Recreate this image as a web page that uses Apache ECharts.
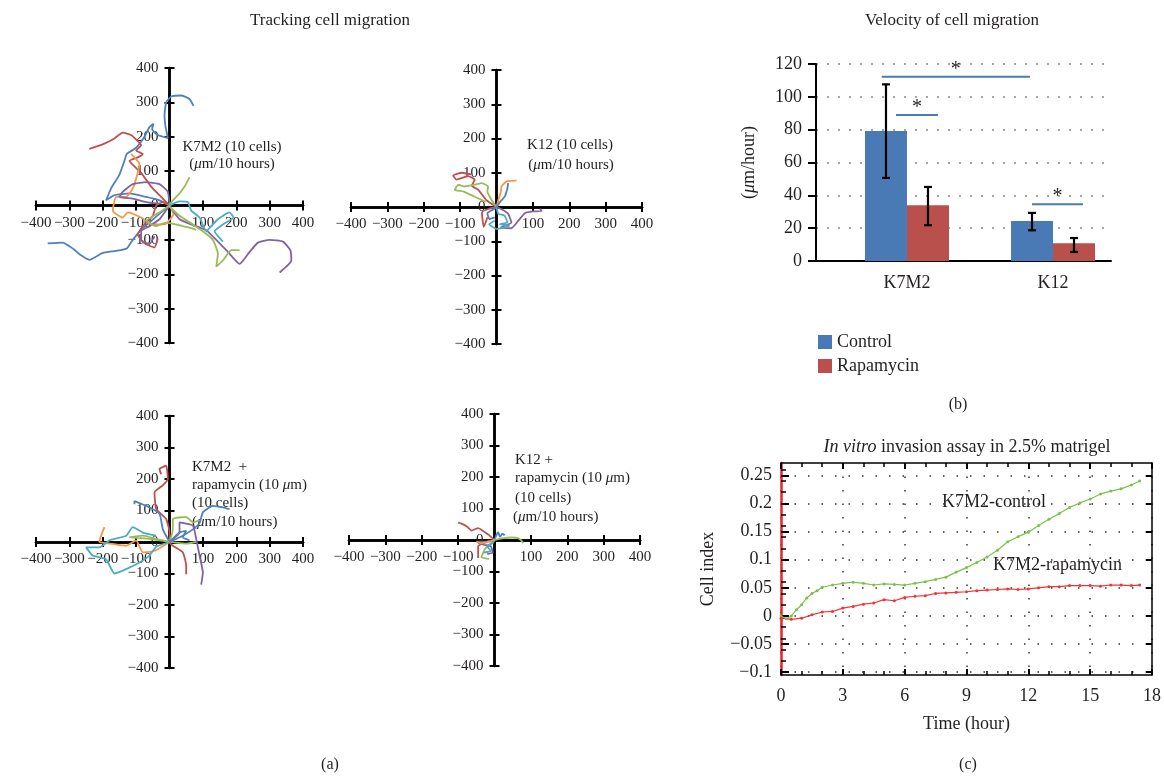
<!DOCTYPE html>
<html>
<head>
<meta charset="utf-8">
<script src="https://cdn.jsdelivr.net/npm/echarts@6/dist/echarts.min.js"></script>
<style>
  html, body { margin: 0; padding: 0; background: #fff; }
  #main { width: 1164px; height: 777px; }
</style>
</head>
<body>
<div id="main"></div>
<script>
// ---- data: cell tracks (um) ----
var tracksK7M2 = [
    [[0,0],[-30,15],[-70,25],[-120,35],[-165,30],[-190,15],[-175,50],[-150,90],[-135,130],[-128,150],[-100,168],[-75,200],[-60,228],[-48,238],[-52,222],[-35,205],[-5,196],[-12,230],[-15,262],[-10,300],[5,317],[35,320],[60,310],[72,290]],
    [[0,0],[-25,-20],[-55,-45],[-85,-70],[-110,-100],[-128,-125],[-160,-132],[-200,-138],[-240,-158],[-265,-145],[-290,-125],[-320,-108],[-365,-110]],
    [[0,0],[-25,25],[-55,55],[-85,95],[-120,130],[-95,140],[-80,150],[-100,160],[-85,175],[-115,205],[-140,212],[-165,195],[-200,178],[-240,165]],
    [[0,0],[-20,10],[-40,0],[-50,-30],[-80,-60],[-95,-85],[-75,-110],[-45,-122],[-35,-95]],
    [[0,0],[12,-25],[-15,-55],[-50,-55],[-85,-35],[-125,-20],[-140,-35],[-170,-15],[-160,25],[-130,25],[-110,50],[-100,78],[-90,120],[-100,135],[-115,150]],
    [[0,0],[-5,40],[-30,62],[-70,68],[-110,62],[-140,40],[-150,25],[-110,20],[-70,10],[-30,5]],
    [[0,0],[30,-40],[65,-55],[110,-72],[140,-100],[175,-135],[210,-170],[240,-135],[265,-108],[300,-100],[340,-105],[362,-130],[365,-160],[330,-195]],
    [[0,0],[-30,-40],[-60,-60],[-85,-75],[-85,-100],[-60,-112],[-45,-90]],
    [[60,82],[45,55],[30,35],[10,15],[0,0],[30,-30],[70,-55],[100,-75],[130,-100],[145,-140],[140,-178],[160,-160],[185,-130],[210,-130]],
    [[0,0],[-30,-20],[-70,-45],[-40,-60],[-10,-50],[40,-60],[80,-70]],
    [[0,0],[30,12],[55,10],[65,-15],[90,-35],[110,-75],[130,-55],[145,-40],[180,-20],[192,-35],[160,-55],[135,-75],[160,-105]]
];
var colorsK7M2 = ['#4F81BD','#4F81BD','#C0504D','#C0504D','#F79646','#8064A2','#8064A2','#8064A2','#9BBB59','#9BBB59','#4BACC6'];

var tracksK12 = [
    [[0,0],[-28,20],[-50,50],[-68,62],[-60,80],[-78,90],[-110,80],[-119,92],[-95,100],[-70,95]],
    [[0,0],[-20,-5],[-40,-15],[-38,-40],[-35,-58],[-25,-30]],
    [[0,0],[-14,21],[-25,45],[-23,60],[-41,70],[-60,65],[-87,60],[-105,65],[-115,50],[-90,45],[-60,30],[-30,15]],
    [[0,0],[5,20],[12,45],[14,60],[28,75],[55,77]],
    [[0,0],[10,15],[23,31],[30,55],[32,70]],
    [[0,0],[20,-10],[32,-20],[41,-45],[12,-60],[41,-62],[60,-40],[78,-18],[100,-13],[124,-12],[120,-5]],
    [[0,0],[5,-20],[22,-25],[30,-45],[10,-50],[35,-55],[0,-64],[-20,-50],[-5,-40]],
    [[0,0],[-10,-8],[-25,-18],[-20,-35],[-5,-30]]
];
var colorsK12 = ['#C0504D','#C0504D','#9BBB59','#F79646','#4F81BD','#8064A2','#4BACC6','#4F81BD'];

var tracksK7M2Rapa = [
    [[50,-102],[50,-75],[40,-33],[10,-12],[0,0],[0,31],[-10,73],[-40,105],[-45,158],[-20,180],[-5,200],[-10,242],[-30,232],[-25,215]],
    [[0,0],[-20,40],[-30,90],[-70,115],[-105,130],[-105,120]],
    [[0,0],[40,20],[70,40],[90,60],[100,94],[130,115],[160,110],[180,104]],
    [[0,0],[10,40],[10,73],[50,80],[70,62],[90,70]],
    [[0,0],[-40,10],[-80,20],[-120,15],[-60,10],[50,-5],[80,0]],
    [[0,0],[30,30],[30,62],[70,52],[80,10],[90,-43],[100,-96],[95,-135]],
    [[0,0],[-30,-20],[-50,-30],[-80,-33],[-100,5],[-130,-12],[-170,-6],[-210,0],[-205,20],[-195,47]],
    [[0,0],[-40,-15],[-60,-43],[-90,-65],[-130,-86],[-165,-100],[-190,-55],[-230,-43],[-250,-17],[-210,-17],[-180,5],[-130,20],[-110,47],[-80,30],[-40,20]],
    [[0,0],[30,30],[50,35],[40,15],[60,5]]
];
var colorsK7M2Rapa = ['#C0504D','#4F81BD','#4F81BD','#9BBB59','#9BBB59','#8064A2','#F79646','#4BACC6','#4F81BD'];

var tracksK12Rapa = [
    [[0,0],[-17,17],[-45,38],[-63,30],[-75,42],[-91,52],[-100,55]],
    [[0,0],[-20,-5],[-45,-20],[-45,-57]],
    [[0,0],[5,15],[10,25],[15,10],[22,20],[28,15]],
    [[0,0],[20,5],[47,8],[65,6],[74,-2],[79,-10]],
    [[0,0],[-10,-10],[-27,-30],[-36,-55],[-15,-60]],
    [[0,0],[-20,-5],[-45,-5],[-30,-15],[-10,-20],[-5,-40],[-20,-45]],
    [[0,0],[-5,-10],[-20,-20],[-10,-35],[-30,-40]],
    [[0,0],[-15,-5],[-35,-10],[-50,-5]]
];
var colorsK12Rapa = ['#C0504D','#C0504D','#4F81BD','#9BBB59','#9BBB59','#8064A2','#4BACC6','#F79646'];

// ---- data: velocity bars ----
var barCats = ['K7M2', 'K12'];
var controlVel = [79.2, 24.3];
var rapaVel = [34.0, 10.8];
var controlLow = [50.6, 18.7];
var controlHigh = [107.6, 29.3];
var rapaLow = [21.8, 5.5];
var rapaHigh = [45.1, 14.0];
// significance bars: [x from, x to, height]
var sigBars = [[-0.173, 0.842, 112.3], [-0.075, 0.212, 88.9], [0.856, 1.205, 34.6]];

// ---- data: invasion assay ----
var ctrlTime = [0,0.25,0.5,0.75,1,1.25,1.5,1.75,2,2.5,3,3.5,4,4.5,5,5.5,6,6.5,7,7.5,8,8.5,9,9.5,10,10.5,11,11.5,12,12.5,13,13.5,14,14.5,15,15.5,16,16.5,17,17.4];
var ctrlIndex = [0,-0.005,0,0.011,0.02,0.032,0.04,0.045,0.051,0.055,0.058,0.06,0.058,0.055,0.057,0.056,0.055,0.058,0.061,0.065,0.069,0.078,0.086,0.095,0.105,0.117,0.132,0.141,0.149,0.161,0.172,0.182,0.193,0.201,0.208,0.217,0.222,0.226,0.233,0.24];
var rapaTime = [0,0.5,1,1.5,2,2.5,3,3.5,4,4.5,5,5.5,6,6.5,7,7.5,8,8.5,9,9.5,10,10.5,11,11.5,12,12.5,13,13.5,14,14.5,15,15.5,16,16.5,17,17.4];
var rapaIndex = [-0.004,-0.006,-0.004,0.002,0.007,0.008,0.014,0.017,0.021,0.023,0.029,0.027,0.033,0.035,0.036,0.04,0.041,0.042,0.043,0.045,0.046,0.047,0.048,0.047,0.048,0.05,0.052,0.052,0.054,0.054,0.054,0.053,0.055,0.055,0.054,0.055];
var cellIndexTicks = [-0.1,-0.05,0,0.05,0.1,0.15,0.2,0.25];

var FONT = 'Liberation Serif';
var INK = '#231f20';

function minus(v) {
    return String(v).replace('-', '\u2212');
}

function zip(xs, ys) {
    return xs.map(function (x, i) { return [x, ys[i]]; });
}

var chartDom = document.getElementById('main');
var myChart = echarts.init(chartDom);

var panels = [
    {box: {left: 36, top: 68, width: 267, height: 275}, tracks: tracksK7M2, colors: colorsK7M2},
    {box: {left: 351, top: 70, width: 291, height: 274}, tracks: tracksK12, colors: colorsK12},
    {box: {left: 36, top: 416, width: 267, height: 252}, tracks: tracksK7M2Rapa, colors: colorsK7M2Rapa},
    {box: {left: 349, top: 414, width: 291, height: 252}, tracks: tracksK12Rapa, colors: colorsK12Rapa}
];

var grids = [], xAxes = [], yAxes = [], series = [];

panels.forEach(function (p, gi) {
    grids.push(p.box);
    var lineStyle = {color: '#000', width: 2.5};
    var tick = {show: true, length: 5, lineStyle: {color: '#000', width: 2}};
    var label = {fontSize: 15, fontFamily: FONT, color: INK};
    // axes cross at the centre (symmetric range); pulled inward with a negative offset,
    // two axes per direction so the ticks cross the line
    var xOff = -p.box.height / 2, yOff = -p.box.width / 2;
    xAxes.push({gridIndex: gi, type: 'value', min: -400, max: 400, interval: 100, position: 'bottom', offset: xOff,
        axisLine: {onZero: false, lineStyle: lineStyle}, axisTick: tick,
        axisLabel: Object.assign({margin: 10, formatter: function (v) { return v === 0 ? '' : minus(v); }}, label),
        splitLine: {show: false}});
    xAxes.push({gridIndex: gi, type: 'value', min: -400, max: 400, interval: 100, position: 'top', offset: xOff,
        axisLine: {onZero: false, lineStyle: lineStyle}, axisTick: tick,
        axisLabel: {show: false}, splitLine: {show: false}});
    yAxes.push({gridIndex: gi, type: 'value', min: -400, max: 400, interval: 100, position: 'left', offset: yOff,
        axisLine: {show: true, onZero: false, lineStyle: lineStyle}, axisTick: tick,
        axisLabel: Object.assign({margin: 11, formatter: minus}, label),
        splitLine: {show: false}});
    yAxes.push({gridIndex: gi, type: 'value', min: -400, max: 400, interval: 100, position: 'right', offset: yOff,
        axisLine: {show: true, onZero: false, lineStyle: lineStyle}, axisTick: tick,
        axisLabel: {show: false}, splitLine: {show: false}});
    p.tracks.forEach(function (t, k) {
        series.push({type: 'line', xAxisIndex: gi * 2, yAxisIndex: gi * 2, data: t,
            showSymbol: false, smooth: 0.15, silent: true, z: 3,
            lineStyle: {width: 1.8, color: p.colors[k]}});
    });
});

// ---- (b) velocity bar chart ----
grids.push({left: 816, top: 64, width: 295, height: 197});
xAxes.push({gridIndex: 4, type: 'value', min: -0.623, max: 1.397,
    axisLine: {onZero: false, lineStyle: {color: '#000', width: 2}},
    axisTick: {show: false}, splitLine: {show: false},
    axisLabel: {customValues: [0, 1], margin: 13, fontSize: 18, fontFamily: FONT, color: INK,
        formatter: function (v) { return barCats[Math.round(v)]; }}});
yAxes.push({gridIndex: 4, type: 'value', min: 0, max: 120, interval: 20,
    axisLine: {show: true, onZero: false, lineStyle: {color: '#000', width: 2}},
    axisTick: {show: true, length: 8, lineStyle: {color: '#000', width: 2}},
    axisLabel: {margin: 14, fontSize: 18, fontFamily: FONT, color: INK},
    splitLine: {show: true, lineStyle: {type: [2, 9], color: '#888', width: 1.5}},
    name: '({i|\u03bc}m/hour)', nameLocation: 'middle', nameGap: 58, nameRotate: 90,
    nameTextStyle: {fontSize: 18, fontFamily: FONT, color: INK,
        rich: {i: {fontStyle: 'italic', fontSize: 18, fontFamily: FONT, color: INK}}}});

series.push({name: 'Control', type: 'bar', xAxisIndex: 8, yAxisIndex: 8,
    data: zip([0, 1], controlVel), barWidth: 42, barGap: '0%', itemStyle: {color: '#4a7ab5'}});
series.push({name: 'Rapamycin', type: 'bar', xAxisIndex: 8, yAxisIndex: 8,
    data: zip([0, 1], rapaVel), barWidth: 42, barGap: '0%', itemStyle: {color: '#b9504b'}});

var errData = [];
barCats.forEach(function (c, i) {
    errData.push([i, controlLow[i], controlHigh[i], -1]);
    errData.push([i, rapaLow[i], rapaHigh[i], 1]);
});
series.push({type: 'custom', xAxisIndex: 8, yAxisIndex: 8, data: errData, z: 5, silent: true,
    encode: {x: 0, y: [1, 2]},
    renderItem: function (params, api) {
        var lo = api.coord([api.value(0), api.value(1)]);
        var hi = api.coord([api.value(0), api.value(2)]);
        var cx = lo[0] + api.value(3) * 21;
        var st = {stroke: '#000', lineWidth: 2.2};
        return {type: 'group', children: [
            {type: 'line', shape: {x1: cx, y1: lo[1], x2: cx, y2: hi[1]}, style: st},
            {type: 'line', shape: {x1: cx - 4, y1: lo[1], x2: cx + 4, y2: lo[1]}, style: st},
            {type: 'line', shape: {x1: cx - 4, y1: hi[1], x2: cx + 4, y2: hi[1]}, style: st}
        ]};
    }});
series.push({type: 'custom', xAxisIndex: 8, yAxisIndex: 8, data: sigBars, z: 5, silent: true,
    encode: {x: [0, 1], y: 2},
    renderItem: function (params, api) {
        var a = api.coord([api.value(0), api.value(2)]);
        var b = api.coord([api.value(1), api.value(2)]);
        return {type: 'group', children: [
            {type: 'line', shape: {x1: a[0], y1: a[1], x2: b[0], y2: b[1]}, style: {stroke: '#4a7ab5', lineWidth: 2}},
            {type: 'text', style: {text: '*', x: (a[0] + b[0]) / 2, y: a[1] + 3, align: 'center', verticalAlign: 'bottom',
                fontSize: 20, fontFamily: FONT, fill: INK}}
        ]};
    }});

// ---- (c) invasion assay ----
grids.push({left: 781, top: 463, width: 374, height: 212});
var cTick = {inside: true, length: 6, lineStyle: {color: '#000', width: 2}};
var cMinor = {show: true, splitNumber: 3, length: 4, lineStyle: {color: '#000', width: 1.5}};
xAxes.push({gridIndex: 5, type: 'value', min: 0, max: 18, interval: 3, position: 'bottom',
    axisLine: {onZero: false, lineStyle: {color: '#000', width: 1.5}},
    axisTick: cTick, minorTick: cMinor,
    axisLabel: {margin: 12, fontSize: 18, fontFamily: FONT, color: INK},
    splitLine: {show: true, lineStyle: {type: [1.5, 12], color: '#333', width: 1.5}},
    name: 'Time (hour)', nameLocation: 'middle', nameGap: 40,
    nameTextStyle: {fontSize: 18, fontFamily: FONT, color: INK}});
xAxes.push({gridIndex: 5, type: 'value', min: 0, max: 18, interval: 3, position: 'top',
    axisLine: {onZero: false, lineStyle: {color: '#000', width: 1.5}},
    axisTick: cTick, minorTick: cMinor, axisLabel: {show: false}, splitLine: {show: false}});
yAxes.push({gridIndex: 5, type: 'value', min: -0.105, max: 0.272, position: 'left',
    axisLine: {show: true, onZero: false, lineStyle: {color: '#e8262a', width: 2.5}},
    axisTick: {show: true, inside: true, length: 8, customValues: cellIndexTicks, lineStyle: {color: '#000', width: 2}},
    minorTick: {show: true, splitNumber: 5, length: 5, lineStyle: {color: '#000', width: 1.5}},
    axisLabel: {customValues: cellIndexTicks, margin: 9, fontSize: 18, fontFamily: FONT, color: INK,
        formatter: function (v) { return minus(Math.round(v * 1000) / 1000); }},
    splitLine: {show: true, lineStyle: {type: [1.5, 12], color: '#333', width: 1.5}},
    name: 'Cell index', nameLocation: 'middle', nameGap: 64, nameRotate: 90,
    nameTextStyle: {fontSize: 18, fontFamily: FONT, color: INK}});
yAxes.push({gridIndex: 5, type: 'value', min: -0.105, max: 0.272, position: 'right',
    axisLine: {show: true, onZero: false, lineStyle: {color: '#000', width: 1.5}},
    axisTick: {show: true, inside: true, length: 6, customValues: cellIndexTicks, lineStyle: {color: '#000', width: 2}},
    axisLabel: {show: false}, splitLine: {show: false}});

series.push({type: 'line', xAxisIndex: 9, yAxisIndex: 9, data: zip(ctrlTime, ctrlIndex),
    symbol: 'circle', symbolSize: 3, showSymbol: true, silent: true,
    lineStyle: {color: '#7cc24a', width: 1.2}, itemStyle: {color: '#7cc24a'}});
series.push({type: 'line', xAxisIndex: 9, yAxisIndex: 9, data: zip(rapaTime, rapaIndex),
    symbol: 'circle', symbolSize: 3, showSymbol: true, silent: true,
    lineStyle: {color: '#f03434', width: 1.2}, itemStyle: {color: '#f03434'}});

function txt(text, x, y, size, align) {
    return {type: 'text', silent: true, style: {text: text, x: x, y: y, align: align || 'left', verticalAlign: 'middle',
        fontSize: size, fontFamily: FONT, fill: INK,
        rich: {i: {fontStyle: 'italic', fontSize: size, fontFamily: FONT, fill: INK}}}};
}

var option = {
    animation: false,
    backgroundColor: '#fff',
    grid: grids,
    xAxis: xAxes,
    yAxis: yAxes,
    legend: {
        data: ['Control', 'Rapamycin'], orient: 'vertical', left: 813, top: 328,
        icon: 'rect', itemWidth: 14, itemHeight: 14, itemGap: 6,
        textStyle: {fontSize: 18, fontFamily: FONT, color: INK}
    },
    graphic: [
        txt('Tracking cell migration', 330, 21, 17, 'center'),
        txt('Velocity of cell migration', 952, 21, 17, 'center'),
        txt('K7M2 (10 cells)', 232, 147, 15, 'center'),
        txt('({i|\u03bc}m/10 hours)', 232, 164, 15, 'center'),
        txt('K12 (10 cells)', 570, 145, 15, 'center'),
        txt('({i|\u03bc}m/10 hours)', 571, 165, 15, 'center'),
        txt('K7M2  +', 192, 467, 15),
        txt('rapamycin (10 {i|\u03bc}m)', 192, 485, 15),
        txt('(10 cells)', 192, 503, 15),
        txt('({i|\u03bc}m/10 hours)', 192, 522, 15),
        txt('K12 +', 515, 460, 15),
        txt('rapamycin (10 {i|\u03bc}m)', 515, 478, 15),
        txt('(10 cells)', 515, 498, 15),
        txt('({i|\u03bc}m/10 hours)', 513, 517, 15),
        txt('{i|In vitro} invasion assay in 2.5% matrigel', 967, 447, 18, 'center'),
        txt('K7M2-control', 942, 502, 18),
        txt('K7M2-rapamycin', 993, 565, 18),
        txt('(a)', 330, 765, 16, 'center'),
        txt('(b)', 958, 405, 16, 'center'),
        txt('(c)', 968, 765, 16, 'center')
    ],
    series: series
};
option && myChart.setOption(option);
</script>
</body>
</html>
